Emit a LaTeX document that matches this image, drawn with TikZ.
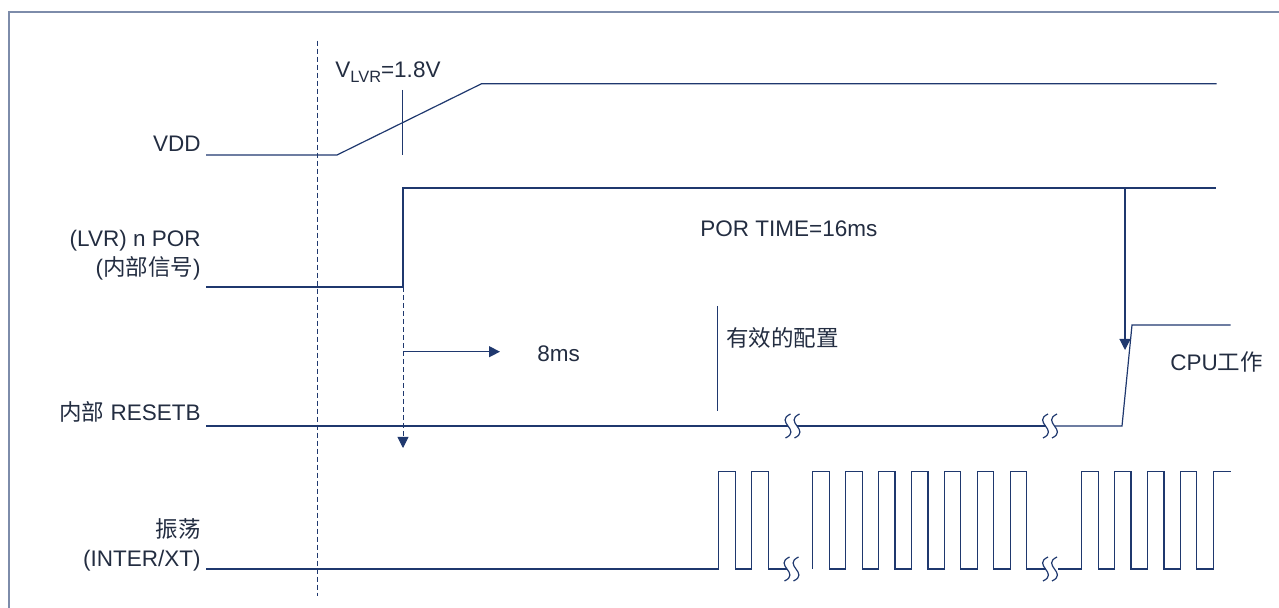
\documentclass[tikz,border=0pt]{standalone}
\usepackage{fontspec}
\setmainfont{Liberation Sans}
\newfontfamily\cjk{Noto Sans CJK SC}
\usepackage{tikz}
\usetikzlibrary{arrows.meta}
\definecolor{sigblue}{RGB}{31,56,110}
\definecolor{txtgray}{RGB}{35,45,65}
\definecolor{framegray}{RGB}{125,140,170}

\begin{document}
\begin{tikzpicture}[x=0.5pt, y=-0.5pt,
    every node/.style={inner sep=0pt, text=txtgray, font=\fontsize{11.25}{14.3}\selectfont},
    sig/.style={draw=sigblue, line width=0.6pt},
    guide/.style={draw=sigblue, line width=0.45pt, dash pattern=on 2.6pt off 1.4pt},
    arr/.style={-{Triangle[length=5.5pt, width=5.5pt]}},
    gap/.pic={
        \draw[sig] (-2,-12) .. controls (-18.5,-4) and (9.5,4) .. (-7,12);
        \draw[sig] (7,-12) .. controls (-9.5,-4) and (18.5,4) .. (2,12);
    }]
    \useasboundingbox (0,0) rectangle (1279,608);
    \clip (0,0) rectangle (1279,608);
    \draw[framegray, line width=0.9pt] (9,620) -- (9,12.3) -- (1290,12.3);

    % signal names
    \node (vdd) [anchor=base east] at (201,152) {VDD};
    \node (npor) [anchor=east, align=right] at (201,255) {(LVR) n POR\\({\cjk 内部信号})};
    \node (rstb) [anchor=base east] at (201,421) {{\cjk 内部} RESETB};
    \node (osc) [anchor=east, align=right] at (201,545) {{\cjk 振荡}\\(INTER/XT)};

    \draw[guide] (317,40.7) -- (317,596);

    % VDD
    \draw[sig] (206,155) -- (337,155) -- (481.6,83.7) -- (1216.6,83.7);
    \draw[sig] (402.5,90) -- (402.5,155);
    \node (vlvr) [anchor=base west] at (335,78) {V\raisebox{-0.35ex}{\fontsize{8.2}{8.2}\selectfont LVR}=1.8V};

    % nPOR
    \draw[sig] (206,287) -- (403,287) -- (403,188) -- (1216,188);
    \node (portime) [anchor=base west] at (700,237) {POR TIME=16ms};
    \coordinate (por) at (403,287);
    \coordinate (porend) at (403,448);
    \draw[guide, arr] (por) -- (porend);
    \coordinate (t0) at (403,351.7);
    \coordinate (t8) at (500,351.7);
    \draw[sig, arr] (t0) -- (t8);
    \node (ms8) [anchor=base west] at (537,362) {8ms};
    \coordinate (rel) at (1125,188);
    \coordinate (relend) at (1125,350);
    \draw[sig, arr] (rel) -- (relend);

    % config
    \draw[sig] (717.6,306) -- (717.6,410.7);
    \node (cfg) [anchor=base west] at (725.7,346.5) {\cjk 有效的配置};

    % RESETB
    \draw[sig] (206,426) -- (788,426);
    \pic at (792.5,426) {gap};
    \draw[sig] (797,426) -- (1045.5,426);
    \pic at (1050,426) {gap};
    \draw[sig] (1054.5,426) -- (1122,426) -- (1132,325) -- (1230.6,325);
    \node (cpu) [anchor=base west] at (1170,371) {CPU{\cjk 工作}};

    % oscillator
    \draw[sig] (206,569) foreach \x in {718.8,751.7} {-- (\x,569) -- (\x,471.7) -- (\x+16.5,471.7) -- (\x+16.5,569)} -- (787,569);
    \pic at (791.5,569) {gap};
    \draw[sig] (812.7,569) foreach \x in {812.7,845.6,878.5,911.4,944.3,977.2,1010.1} {-- (\x,569) -- (\x,471.7) -- (\x+16.5,471.7) -- (\x+16.5,569)} -- (1045.5,569);
    \pic at (1050,569) {gap};
    \draw[sig] (1058,569) foreach \x in {1081.6,1114.5,1147.4,1180.3} {-- (\x,569) -- (\x,471.7) -- (\x+16.5,471.7) -- (\x+16.5,569)} -- (1213.2,569) -- (1213.2,471.7) -- (1230.6,471.7);
\end{tikzpicture}
\end{document}
